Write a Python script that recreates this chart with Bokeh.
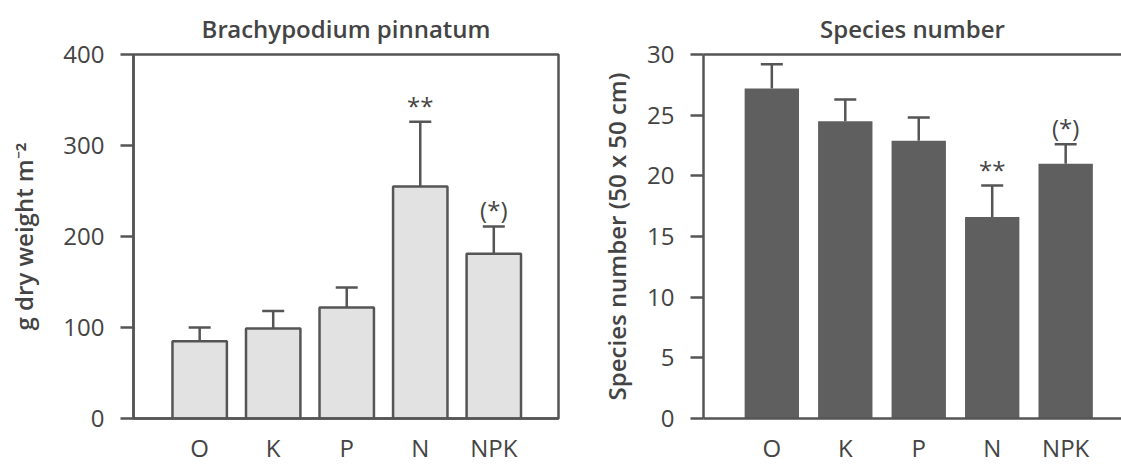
from bokeh.plotting import figure
from bokeh.models import Range1d, FixedTicker, Whisker, ColumnDataSource, LinearAxis, TeeHead
from bokeh.layouts import row
from bokeh.core.properties import value
from bokeh.embed import file_html
from bokeh.resources import INLINE

categories = ["O", "K", "P", "N", "NPK"]
biomass = [85, 99, 122, 255, 181]
biomass_err = [15, 19, 22, 71, 30]
species = [27.2, 24.5, 22.9, 16.6, 21.0]
species_err = [2.0, 1.8, 1.9, 2.6, 1.6]
signif = ["", "", "", "**", "(*)"]
biomass_ticks = [0, 100, 200, 300, 400]
species_ticks = [0, 5, 10, 15, 20, 25, 30]

FONT = "Open Sans"
FONT_B = "Open Sans SemiBold, Open Sans"
TXT = "#444444"
LINE = "#555555"
LW = 2.5
FS = "24px"


def make_panel(vals, errs, ticks, ymax, title, ylabel, fill, outline, width,
               mbl, mbr, xr, full_box, title_offset, label_standoff):
    x = list(range(len(categories)))
    src = ColumnDataSource(dict(
        x=x, top=vals, lower=vals,
        upper=[v + e for v, e in zip(vals, errs)],
        sig=signif,
    ))
    p = figure(width=width, height=466, output_backend="svg",
               toolbar_location=None, x_range=Range1d(*xr),
               y_range=Range1d(0, ymax),
               min_border_left=mbl, min_border_right=mbr,
               min_border_top=16, min_border_bottom=46)
    p.title.text = title
    p.title.align = "center"
    p.title.offset = title_offset
    p.title.standoff = 19
    p.title.text_font = FONT_B
    p.title.text_font_size = FS
    p.title.text_font_style = "normal"
    p.title.text_color = TXT
    p.grid.visible = False
    p.background_fill_color = None
    p.border_fill_color = None

    xa = p.below[0]
    ya = p.left[0]
    if full_box:
        p.outline_line_color = LINE
        p.outline_line_width = LW
        p.outline_line_alpha = 1.0
    else:
        p.outline_line_color = None
        top = LinearAxis(major_tick_out=0, major_tick_in=0, minor_tick_out=0,
                         minor_tick_in=0, major_label_text_font_size="0px",
                         major_label_standoff=0,
                         axis_line_color=LINE, axis_line_width=LW,
                         ticker=FixedTicker(ticks=[]))
        p.add_layout(top, "above")

    p.vbar(x="x", top="top", bottom=0, width=0.74, source=src,
           fill_color=fill, line_color=outline, line_width=LW if outline else 0)
    p.add_layout(Whisker(base="x", lower="lower", upper="upper", source=src,
                         dimension="height", line_color=LINE, line_width=LW,
                         lower_head=None,
                         upper_head=TeeHead(size=22, line_color=LINE, line_width=LW)))
    p.text(x="x", y="upper", text="sig", source=src, text_align="center",
           text_baseline="bottom", y_offset=0, text_font=value(FONT),
           text_font_size=FS, text_color=TXT)

    xa.ticker = FixedTicker(ticks=x)
    xa.major_label_overrides = {i: c for i, c in zip(x, categories)}
    xa.major_tick_out = 0
    xa.major_tick_in = 0
    xa.minor_tick_out = 0
    xa.minor_tick_in = 0
    xa.axis_line_color = LINE
    xa.axis_line_width = LW
    xa.major_label_text_font = FONT
    xa.major_label_text_font_size = FS
    xa.major_label_text_color = TXT
    xa.major_label_standoff = 12

    ya.ticker = FixedTicker(ticks=ticks)
    ya.major_tick_out = 13
    ya.major_tick_in = 0
    ya.minor_tick_out = 0
    ya.minor_tick_in = 0
    ya.axis_line_color = LINE
    ya.axis_line_width = LW
    ya.major_tick_line_color = LINE
    ya.major_tick_line_width = LW
    ya.major_label_text_font = FONT
    ya.major_label_text_font_size = FS
    ya.major_label_text_color = TXT
    ya.major_label_standoff = 16
    ya.axis_label = ylabel
    ya.axis_label_text_font = FONT_B
    ya.axis_label_text_font_size = FS
    ya.axis_label_text_font_style = "normal"
    ya.axis_label_text_color = TXT
    ya.axis_label_standoff = label_standoff
    return p


left = make_panel(biomass, biomass_err, biomass_ticks, 400,
                  "Brachypodium pinnatum", "g dry weight m\u207b\u00b2",
                  "#e2e2e2", LINE, 580, 133, 22, (-0.9, 4.88), True, -9, 20)
right = make_panel(species, species_err, species_ticks, 30,
                   "Species number", "Species number (50 x 50 cm)",
                   "#5f5f5f", None, 541, 123, 0, (-0.93, 4.76), False, 0, 11)

layout = row(left, right)
open("out.html", "w").write(file_html(layout, INLINE))
